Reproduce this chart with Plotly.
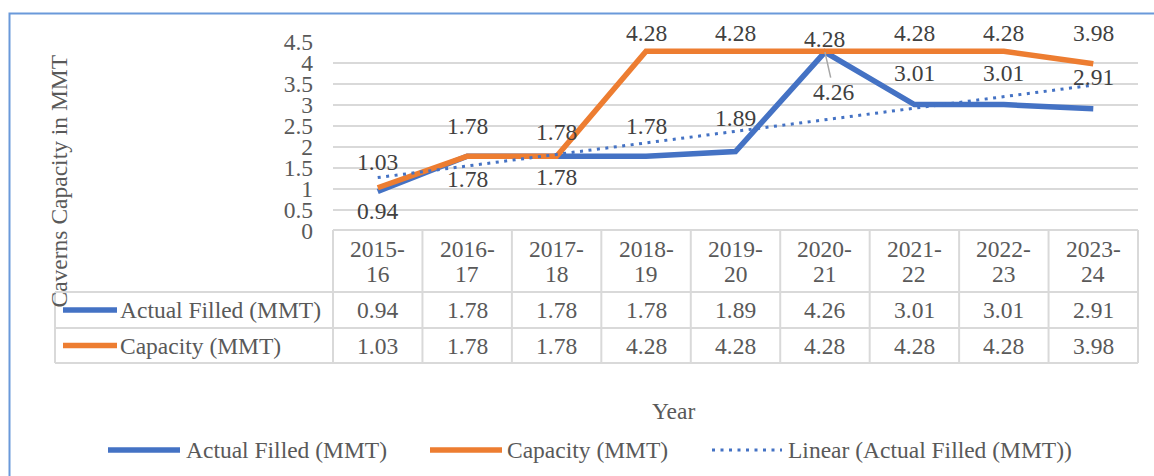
import numpy as np
import plotly.graph_objects as go

# ---------------- data ----------------
years = ["2015-16", "2016-17", "2017-18", "2018-19", "2019-20",
         "2020-21", "2021-22", "2022-23", "2023-24"]
actual_filled = [0.94, 1.78, 1.78, 1.78, 1.89, 4.26, 3.01, 3.01, 2.91]
capacity = [1.03, 1.78, 1.78, 4.28, 4.28, 4.28, 4.28, 4.28, 3.98]
y_tick_values = [0, 0.5, 1, 1.5, 2, 2.5, 3, 3.5, 4, 4.5]

name_actual = "Actual Filled (MMT)"
name_capacity = "Capacity (MMT)"
name_trend = "Linear (Actual Filled (MMT))"
y_title = "Caverns Capacity in MMT"
x_title = "Year"

# ---------------- styles / positions ----------------
W, H = 1154, 476
PL, PR, PT, PB = 333, 1138, 42, 231          # plot area in pixels
BLUE, ORANGE = "#4472C4", "#ED7D31"
GRID = "#D9D9D9"
TXT = "#595959"
LBL = "#404040"
FONT = "Liberation Serif, Times New Roman, serif"
FS = 23.5

# data-label offsets (pixels, positive = up)
cap_label_shift = [26, 30, 24, 18, 18, 12, 18, 18, 31]
act_label_shift = [-19, -23, -21, 30, 34, None, 32, 32, 32]


def px(xp):
    return (xp - PL) / (PR - PL)


def py(yp):
    return (PB - yp) / (PB - PT)


def txt(x, y, text, xref="paper", yref="paper", xanchor="center", color=TXT, **kw):
    d = dict(x=x, y=y, xref=xref, yref=yref, text=text, xanchor=xanchor,
             yanchor="middle", showarrow=False,
             font=dict(family=FONT, size=FS, color=color))
    d.update(kw)
    return d


n = len(years)
xi = np.arange(n)
slope, intercept = np.polyfit(xi, actual_filled, 1)
trend = slope * xi + intercept

fig = go.Figure()
fig.add_trace(go.Scatter(x=years, y=actual_filled, mode="lines", name=name_actual,
                         line=dict(color=BLUE, width=5.5), showlegend=False))
fig.add_trace(go.Scatter(x=years, y=capacity, mode="lines", name=name_capacity,
                         line=dict(color=ORANGE, width=5.5), showlegend=False))
fig.add_trace(go.Scatter(x=years, y=trend, mode="lines", name=name_trend,
                         line=dict(color=BLUE, width=3, dash="3px,5.5px"), showlegend=False))

shapes = []
annotations = []

# data labels
for i, (yr, v) in enumerate(zip(years, capacity)):
    annotations.append(txt(yr, v, f"{v:.2f}", xref="x", yref="y", color=LBL,
                           yshift=cap_label_shift[i]))
for i, (yr, v) in enumerate(zip(years, actual_filled)):
    s = act_label_shift[i]
    if s is None:
        a = txt(yr, v, f"{v:.2f}", xref="x", yref="y", color=LBL)
        a.update(showarrow=True, arrowhead=0, arrowwidth=1.5, arrowcolor="#A6A6A6",
                 ax=9, ay=40, standoff=0)
        a.pop("xanchor")
        a.pop("yanchor")
        annotations.append(a)
    else:
        annotations.append(txt(yr, v, f"{v:.2f}", xref="x", yref="y", color=LBL, yshift=s))

# data table
LEFT = 55
ROWS = [230, 292, 328, 363]
line_style = dict(color=GRID, width=2)
shapes.append(dict(type="line", xref="paper", yref="paper", x0=px(PL), x1=px(PR),
                   y0=py(ROWS[0]), y1=py(ROWS[0]), line=line_style))
for r in ROWS[1:]:
    shapes.append(dict(type="line", xref="paper", yref="paper", x0=px(LEFT), x1=px(PR),
                       y0=py(r), y1=py(r), line=line_style))
shapes.append(dict(type="line", xref="paper", yref="paper", x0=px(LEFT), x1=px(LEFT),
                   y0=py(ROWS[1]), y1=py(ROWS[3]), line=line_style))
for k in range(n + 1):
    shapes.append(dict(type="line", xref="paper", yref="paper", x0=k / n, x1=k / n,
                       y0=py(ROWS[0]), y1=py(ROWS[3]), line=line_style))

for i, yr in enumerate(years):
    top, bottom = yr.split("-")
    annotations.append(txt(yr, py(249), top + "-", xref="x"))
    annotations.append(txt(yr, py(274), bottom, xref="x"))
    annotations.append(txt(yr, py(310), f"{actual_filled[i]:.2f}", xref="x"))
    annotations.append(txt(yr, py(345.5), f"{capacity[i]:.2f}", xref="x"))

for name, color, yc in [(name_actual, BLUE, 310), (name_capacity, ORANGE, 345.5)]:
    shapes.append(dict(type="line", xref="paper", yref="paper", x0=px(63), x1=px(117),
                       y0=py(yc), y1=py(yc), line=dict(color=color, width=5.5)))
    annotations.append(txt(px(118), py(yc), name, xanchor="left"))

# legend (drawn manually)
LEG_Y = 450
legend_items = [
    (name_actual, dict(color=BLUE, width=5.5), 108, 180, 184),
    (name_capacity, dict(color=ORANGE, width=5.5), 430, 502, 505),
    (name_trend, dict(color=BLUE, width=3, dash="3px,5.5px"), 712, 782, 786),
]
for name, ls, x0, x1, xt in legend_items:
    shapes.append(dict(type="line", xref="paper", yref="paper", x0=px(x0), x1=px(x1),
                       y0=py(LEG_Y), y1=py(LEG_Y), line=ls))
    annotations.append(txt(px(xt), py(LEG_Y), name, xanchor="left"))

# axis titles
annotations.append(txt(px(673), py(411), x_title))
annotations.append(txt(px(58), py(181.5), y_title, textangle=-90))

# chart border
shapes.append(dict(type="rect", xref="paper", yref="paper", x0=px(9.5), x1=px(1170),
                   y0=py(13.5), y1=py(500), line=dict(color="#6A99DA", width=2),
                   fillcolor="rgba(0,0,0,0)", layer="above"))

fig.update_layout(
    width=W, height=H,
    margin=dict(l=PL, r=W - PR, t=PT, b=H - PB, pad=0),
    paper_bgcolor="white", plot_bgcolor="white",
    showlegend=False,
    shapes=shapes, annotations=annotations,
    xaxis=dict(type="category", range=[-0.5, n - 0.5], showticklabels=False,
               showgrid=False, zeroline=False, showline=False, fixedrange=True),
    yaxis=dict(range=[0, 4.5], tickvals=y_tick_values, showgrid=True, gridcolor=GRID,
               gridwidth=2, zeroline=False, showline=False, ticks="",
               ticklabelstandoff=19,
               tickfont=dict(family=FONT, size=FS, color=TXT), fixedrange=True),
)

fig.write_html("out.html", config={"displayModeBar": False},
               post_script="document.body.style.margin='0';document.body.style.overflow='hidden';")
